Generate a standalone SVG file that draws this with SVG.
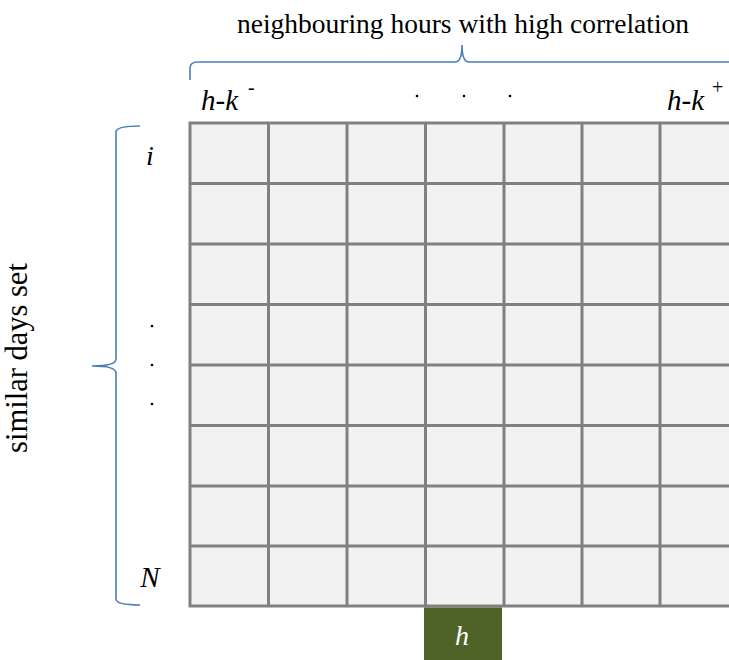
<svg xmlns="http://www.w3.org/2000/svg" width="729" height="660" viewBox="0 0 729 660">
  <style>
    .cell { fill: #f2f2f2; stroke: #808080; stroke-width: 3; }
    .brace { fill: none; stroke: #4a7ebb; stroke-width: 1.6; }
    .lbl { font-family: "Liberation Serif", "Times New Roman", serif; font-size: 28px; fill: #000; }
    .it { font-style: italic; }
    .sup { font-size: 20px; }
    .dot { fill: #000; }
  </style>
  <rect width="729" height="660" fill="#ffffff"/>

  <!-- grid of days x hours -->
  <g id="grid">
    <rect class="cell" x="190" y="123" width="560" height="483"/>
    <path d="M268.5 123V606M347 123V606M425.5 123V606M504 123V606M582 123V606M660 123V606" stroke="#808080" stroke-width="3"/>
    <path d="M190 183.5H729M190 244H729M190 304.5H729M190 365H729M190 425.5H729M190 486H729M190 546H729" stroke="#808080" stroke-width="3"/>
  </g>

  <!-- target hour -->
  <g id="target-hour">
    <rect x="424" y="607.5" width="78" height="52.5" fill="#4f6228"/>
    <text class="lbl it" x="462" y="645" text-anchor="middle" style="fill:#ffffff">h</text>
  </g>

  <!-- braces -->
  <g id="connectors">
    <path class="brace" d="M190 80V68Q190 62 198 62H455Q462 62 462 45Q462 62 469 62H729"/>
    <path class="brace" d="M140 126Q116 126 116 132V359Q116 366 92 366Q116 366 116 373V599Q116 605 140 605"/>
  </g>

  <!-- top labels -->
  <g id="title-top">
    <text class="lbl" x="463" y="33" text-anchor="middle" style="font-size:27.5px">neighbouring hours with high correlation</text>
  </g>
  <g id="hour-range">
    <text class="lbl it" x="201" y="110" style="font-size:29px">h-k</text>
    <text class="lbl sup" x="248" y="94">-</text>
    <circle class="dot" cx="417" cy="96" r="1.3"/>
    <circle class="dot" cx="464" cy="96" r="1.3"/>
    <circle class="dot" cx="510" cy="96" r="1.3"/>
    <text class="lbl it" x="667" y="110" style="font-size:29px">h-k</text>
    <text class="lbl sup" x="712" y="94">+</text>
  </g>

  <!-- left labels -->
  <g id="title-left">
    <text class="lbl" transform="translate(27 358) rotate(-90)" text-anchor="middle" style="font-size:30.5px">similar days set</text>
  </g>
  <g id="day-range">
    <text class="lbl it" x="150" y="165" text-anchor="middle">i</text>
    <circle class="dot" cx="152" cy="326" r="1.3"/>
    <circle class="dot" cx="152" cy="365" r="1.3"/>
    <circle class="dot" cx="152" cy="404" r="1.3"/>
    <text class="lbl it" x="150" y="587" text-anchor="middle" style="font-size:29px">N</text>
  </g>
</svg>
